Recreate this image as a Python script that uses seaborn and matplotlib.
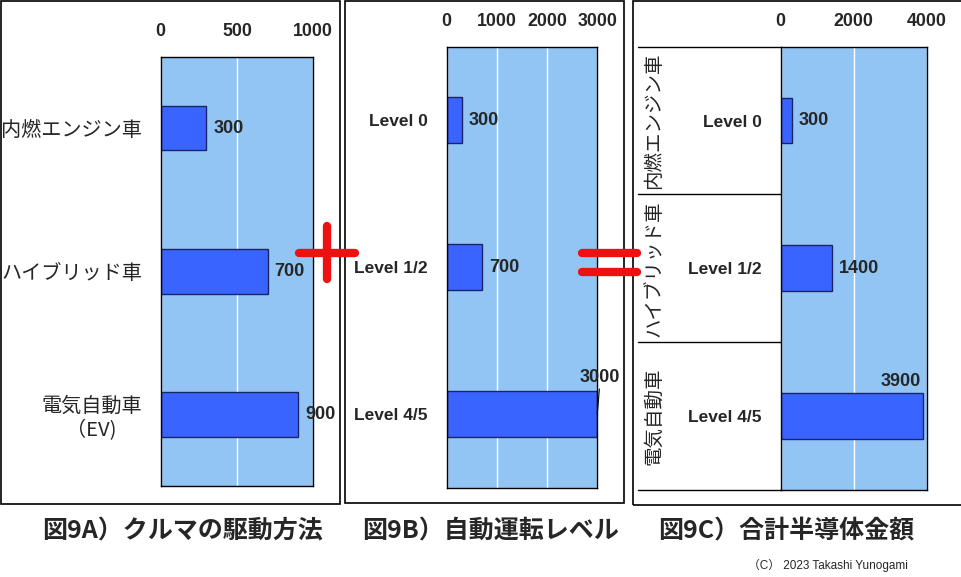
import matplotlib
matplotlib.use('Agg')
import matplotlib.pyplot as plt
import matplotlib.transforms as mtrans
from matplotlib.lines import Line2D
from matplotlib.patches import Rectangle
import seaborn as sns
import pandas as pd

# ---------------- data ----------------
drive_cats = ['内燃エンジン車', 'ハイブリッド車', '電気自動車\n（EV)']
drive_vals = [300, 700, 900]
drive_ticks = [0, 500, 1000]

level_cats = ['Level 0', 'Level 1/2', 'Level 4/5']
level_vals = [300, 700, 3000]
level_ticks = [0, 1000, 2000, 3000]

total_groups = ['内燃エンジン車', 'ハイブリッド車', '電気自動車']
total_cats = ['Level 0', 'Level 1/2', 'Level 4/5']
total_vals = [300, 1400, 3900]
total_ticks = [0, 2000, 4000]

titles = ['図9A）クルマの駆動方法', '図9B）自動運転レベル', '図9C）合計半導体金額']
credit = '（C） 2023 Takashi Yunogami'

# ---------------- style ----------------
W, H = 961, 577
BG = '#92C5F4'
BAR = '#3A64FF'
EDGE = '#1B2466'
RED = '#EE1111'
JP = ['Noto Sans CJK JP', 'DejaVu Sans']
LAT = ['Liberation Sans', 'Noto Sans CJK JP', 'DejaVu Sans']

sns.set_style('white')
plt.rcParams['font.family'] = LAT

fig = plt.figure(figsize=(W / 100, H / 100), dpi=100)


def fx(x):
    return x / W


def fy(y):
    return 1 - y / H


def rect(x0, y0, x1, y1):
    return [fx(x0), fy(y1), (x1 - x0) / W, (y1 - y0) / H]


panels = [
    dict(cats=drive_cats, vals=drive_vals, ticks=drive_ticks, pos=(160.7, 56.7, 313.3, 486.0),
         box=(1, 1, 340, 504), tx=182.5, jp=True),
    dict(cats=level_cats, vals=level_vals, ticks=level_ticks, pos=(446.7, 46.7, 597.3, 487.7),
         box=(345, 1, 624, 503), tx=490, jp=False),
    dict(cats=total_cats, vals=total_vals, ticks=total_ticks, pos=(780.7, 46.7, 926.7, 490.0),
         box=(633, 1, 963, 505), tx=786.5, jp=False),
]

axes = []
for k, p in enumerate(panels):
    x0, y0, x1, y1 = p['box']
    fig.add_artist(Rectangle((fx(x0), fy(y1)), (x1 - x0) / W, (y1 - y0) / H,
                             transform=fig.transFigure, fill=False, ec='black', lw=1.2, zorder=0))
    ax = fig.add_axes(rect(*p['pos']))
    df = pd.DataFrame({'cat': p['cats'], 'val': p['vals']})
    sns.barplot(data=df, x='val', y='cat', orient='h', color=BAR, saturation=1,
                edgecolor=EDGE, linewidth=1.0, width=0.31, ax=ax)
    ax.set_facecolor(BG)
    ax.set_xlim(0, p['ticks'][-1])
    ax.set_xticks(p['ticks'])
    ax.xaxis.tick_top()
    ax.set_xticklabels([str(t) for t in p['ticks']], fontsize=12.8, fontweight='bold')
    ax.tick_params(axis='x', length=0, pad=12)
    ax.tick_params(axis='y', length=0, pad=13.5)
    ax.set_yticks(range(len(p['cats'])))
    if p['jp']:
        ax.set_yticklabels(p['cats'], fontsize=14.5, family=JP)
        for lbl in ax.get_yticklabels():
            lbl.set_multialignment('center')
    else:
        ax.set_yticklabels(p['cats'], fontsize=12.5, fontweight='bold')
    ax.set_xlabel('')
    ax.set_ylabel('')
    ax.grid(axis='x', color='white', lw=1.0)
    ax.grid(axis='y', visible=False)
    ax.set_axisbelow(True)
    for s in ax.spines.values():
        s.set_visible(True)
        s.set_color('black')
        s.set_linewidth(1.0)
    axes.append(ax)
    fig.text(fx(p['tx']), fy(531.5), titles[k], ha='center', va='center',
             fontsize=18, fontweight='bold', family=JP)

# value labels
VFS = 13
for ax, p in zip(axes, panels):
    for i, v in enumerate(p['vals']):
        if ax is axes[1] and i == 2:
            ax.annotate(str(v), (v, i), xytext=(3, 37), textcoords='offset pixels',
                        ha='center', va='center', fontsize=VFS, fontweight='bold',
                        annotation_clip=False,
                        arrowprops=dict(arrowstyle='-', color='black', lw=0.8,
                                        shrinkA=0, shrinkB=0))
        elif ax is axes[2] and i == 2:
            ax.annotate(str(v), (v, i), xytext=(-2, 26), textcoords='offset pixels',
                        ha='right', va='bottom', fontsize=VFS, fontweight='bold',
                        annotation_clip=False)
        else:
            ax.annotate(str(v), (v, i), xytext=(7, 0), textcoords='offset pixels',
                        ha='left', va='center', fontsize=VFS, fontweight='bold',
                        annotation_clip=False)

# panel C group table
axc = axes[2]
tr = mtrans.blended_transform_factory(axc.transAxes, axc.transData)
xl = (638 - 780.7) / 146.0
for b in [-0.5, 0.5, 1.5, 2.5]:
    axc.add_line(Line2D([xl, 0], [b, b], color='black', lw=1.0, transform=tr, clip_on=False))
xg = (654 - 780.7) / 146.0
for i, g in enumerate(total_groups):
    axc.text(xg, i, g, rotation=90, ha='center', va='center', fontsize=14,
             family=JP, transform=tr)

for ax, p in zip(axes, panels):
    ax.set_ylim(len(p['cats']) - 0.5, -0.5)
    ax.set_xlim(0, p['ticks'][-1])

# plus and equals signs
lw_sym = 6.0
fig.add_artist(Line2D([fx(327), fx(327)], [fy(226), fy(279)], color=RED, lw=lw_sym,
                      solid_capstyle='round', transform=fig.transFigure))
fig.add_artist(Line2D([fx(299), fx(355)], [fy(253), fy(253)], color=RED, lw=lw_sym,
                      solid_capstyle='round', transform=fig.transFigure))
for yy in (253, 271.5):
    fig.add_artist(Line2D([fx(582), fx(637)], [fy(yy), fy(yy)], color=RED, lw=lw_sym,
                          solid_capstyle='round', transform=fig.transFigure))

fig.text(fx(908), fy(565), credit, ha='right', va='center', fontsize=8.5, family=LAT)

fig.savefig('out.png', dpi=100)
